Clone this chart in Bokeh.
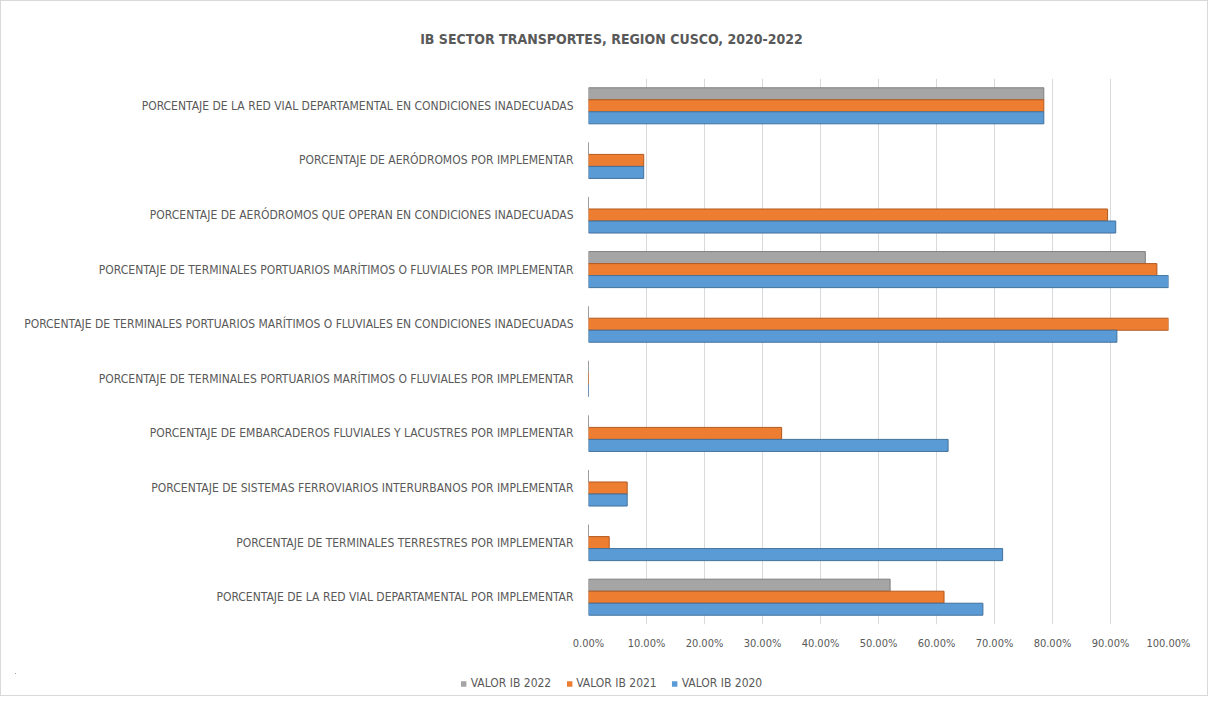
from bokeh.plotting import figure
from bokeh.layouts import column
from bokeh.models import Range1d, FixedTicker, NumeralTickFormatter, Legend, LegendItem, ColumnDataSource
from bokeh.embed import file_html
from bokeh.resources import INLINE

categories = [
    "PORCENTAJE DE LA RED VIAL DEPARTAMENTAL EN CONDICIONES INADECUADAS",
    "PORCENTAJE DE AERÓDROMOS POR IMPLEMENTAR",
    "PORCENTAJE DE AERÓDROMOS QUE OPERAN EN CONDICIONES INADECUADAS",
    "PORCENTAJE DE TERMINALES PORTUARIOS MARÍTIMOS O FLUVIALES POR IMPLEMENTAR",
    "PORCENTAJE DE TERMINALES PORTUARIOS MARÍTIMOS O FLUVIALES EN CONDICIONES INADECUADAS",
    "PORCENTAJE DE TERMINALES PORTUARIOS MARÍTIMOS O FLUVIALES POR IMPLEMENTAR",
    "PORCENTAJE DE EMBARCADEROS FLUVIALES Y LACUSTRES POR IMPLEMENTAR",
    "PORCENTAJE DE SISTEMAS FERROVIARIOS INTERURBANOS POR IMPLEMENTAR",
    "PORCENTAJE DE TERMINALES TERRESTRES POR IMPLEMENTAR",
    "PORCENTAJE DE LA RED VIAL DEPARTAMENTAL POR IMPLEMENTAR",
]
ib_2020 = [0.785, 0.0952, 0.909, 1.00, 0.911, 0.0, 0.62, 0.0667, 0.714, 0.68]
ib_2021 = [0.785, 0.0952, 0.895, 0.98, 1.00, 0.0, 0.333, 0.0667, 0.0357, 0.613]
ib_2022 = [0.785, 0.0, 0.0, 0.96, 0.0, 0.0, 0.0, 0.0, 0.0, 0.52]
series_names = ["VALOR IB 2022", "VALOR IB 2021", "VALOR IB 2020"]
x_ticks = [0.0, 0.1, 0.2, 0.3, 0.4, 0.5, 0.6, 0.7, 0.8, 0.9, 1.0]
title_text = "IB SECTOR TRANSPORTES, REGION CUSCO, 2020-2022"

n = len(categories)
rows = [n - i for i in range(n)]
BAR_H = 0.22

src = ColumnDataSource(dict(
    row=rows,
    y2022=[r + BAR_H for r in rows],
    y2021=rows,
    y2020=[r - BAR_H for r in rows],
    v2022=ib_2022, v2021=ib_2021, v2020=ib_2020,
))

FONT = "DejaVu Sans Condensed"
TXT = "#595959"
COLORS = ["#A5A5A5", "#ED7D31", "#5B9BD5"]
EDGES = ["#7F7F7F", "#B35A1F", "#41719C"]
W = 1206
ycols = ["y2022", "y2021", "y2020"]
vcols = ["v2022", "v2021", "v2020"]


def strip(height, **kw):
    f = figure(width=W, height=height, output_backend="svg", toolbar_location=None,
               x_range=Range1d(5, 6), y_range=Range1d(-30, -29),
               x_axis_location=None, y_axis_location=None, frame_align=False, **kw)
    f.xgrid.grid_line_color = None
    f.ygrid.grid_line_color = None
    f.outline_line_color = None
    return f


# --- title strip ---
tf = strip(56, min_border_top=50, min_border_bottom=0, min_border_left=14, min_border_right=0)
tf.title.text = title_text
tf.title.align = "center"
tf.title.text_font = FONT
tf.title.text_font_size = "14px"
tf.title.text_font_style = "bold"
tf.title.text_color = TXT
tf.title.standoff = 10

# --- main chart ---
p = figure(width=W, height=607, output_backend="svg", toolbar_location=None,
           x_range=Range1d(0, 1.0), y_range=Range1d(0.5, n + 0.5), frame_align=False,
           min_border_left=587, min_border_right=39, min_border_top=21, min_border_bottom=40)
p.outline_line_color = None

for yc, vc, fc, lc in zip(ycols, vcols, COLORS, EDGES):
    p.hbar(y=yc, right=vc, left=0, height=BAR_H, source=src,
           fill_color=fc, line_color=lc, line_width=1)

p.xaxis.ticker = FixedTicker(ticks=x_ticks)
p.xaxis.formatter = NumeralTickFormatter(format="0.00%")
p.xaxis.axis_line_color = None
p.xaxis.major_tick_line_color = None
p.xaxis.minor_tick_line_color = None
p.xaxis.major_label_text_font = FONT
p.xaxis.major_label_text_font_size = "11px"
p.xaxis.major_label_text_color = TXT
p.xaxis.major_label_standoff = 6

p.yaxis.ticker = FixedTicker(ticks=rows)
p.yaxis.major_label_overrides = {r: c for r, c in zip(rows, categories)}
p.yaxis.axis_line_color = None
p.yaxis.major_tick_line_color = None
p.yaxis.minor_tick_line_color = None
p.yaxis.major_label_text_font = FONT
p.yaxis.major_label_text_font_size = "12px"
p.yaxis.major_label_text_color = TXT
p.yaxis.major_label_standoff = 9

p.xgrid.grid_line_color = "#D9D9D9"
p.xgrid.ticker = FixedTicker(ticks=x_ticks)
p.ygrid.grid_line_color = None

# --- legend strip (series renderers fall outside this strip's view) ---
lf = strip(31, min_border_top=9, min_border_bottom=2, min_border_left=14, min_border_right=0)
leg_renderers = [lf.hbar(y=yc, right=vc, left=0, height=BAR_H, source=src,
                         fill_color=fc, line_color=None)
                 for yc, vc, fc in zip(ycols, vcols, COLORS)]
legend = Legend(items=[LegendItem(label=s, renderers=[r]) for s, r in zip(series_names, leg_renderers)],
                orientation="horizontal", location="center", padding=0, margin=0,
                label_text_font=FONT, label_text_font_size="12px", label_text_color=TXT,
                glyph_width=7, glyph_height=7, spacing=14, label_standoff=4,
                border_line_color=None, background_fill_alpha=0)
lf.add_layout(legend, "center")

layout = column(tf, p, lf, spacing=0)
layout.styles = {"border": "1px solid #D9D9D9"}

open("out.html", "w").write(file_html(layout, INLINE))
